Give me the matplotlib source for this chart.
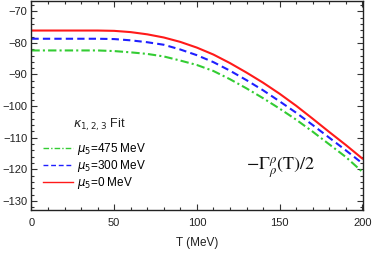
import matplotlib
matplotlib.use("Agg")
import matplotlib.pyplot as plt
from matplotlib.ticker import MultipleLocator
from matplotlib.lines import Line2D

plt.rcParams['font.family'] = ['Liberation Sans', 'DejaVu Sans']
plt.rcParams['mathtext.fontset'] = 'dejavusans'

T = [0, 10, 20, 30, 40, 50, 60, 70, 80, 90, 100, 110, 120, 130, 140, 150, 160, 170, 180, 190, 200]
mu0 = [-76.1, -76.1, -76.1, -76.1, -76.1, -76.2, -76.6, -77.3, -78.3, -79.7, -81.5, -83.7, -86.4,
       -89.4, -92.6, -96.1, -99.9, -104.0, -108.2, -112.3, -116.6]
mu300 = [-78.7, -78.7, -78.7, -78.7, -78.7, -78.8, -79.2, -79.8, -80.6, -82.1, -83.9, -86.1, -88.8,
         -91.8, -95.0, -98.5, -102.1, -106.0, -110.0, -114.0, -118.1]
mu475 = [-82.4, -82.4, -82.4, -82.4, -82.4, -82.6, -83.0, -83.5, -84.3, -85.6, -87.0, -88.9, -91.5,
         -94.4, -97.5, -100.8, -104.3, -108.1, -112.1, -116.1, -120.8]
labels = [r'$\mu_5$=475 MeV', r'$\mu_5$=300 MeV', r'$\mu_5$=0 MeV']

fig = plt.figure(figsize=(3.74, 2.54), dpi=100)
ax = fig.add_axes([0.084, 0.173, 0.887, 0.825])

green = '#33cc33'
l1, = ax.plot(T, mu475, color=green, lw=1.5, linestyle=(0, (4, 1.5, 1, 1.5)))
l2, = ax.plot(T, mu300, color='#1f1fff', lw=1.5, linestyle=(0, (3.5, 2)))
l3, = ax.plot(T, mu0, color='#ff1a1a', lw=1.5, linestyle='-')

ax.set_xlim(0, 200.5)
ax.set_ylim(-132.9, -66.6)
ax.xaxis.set_major_locator(MultipleLocator(50))
ax.xaxis.set_minor_locator(MultipleLocator(10))
ax.yaxis.set_major_locator(MultipleLocator(10))
ax.yaxis.set_minor_locator(MultipleLocator(2))
ax.tick_params(which='both', direction='in', top=True, right=True, labelsize=8, colors='#333333',
               labelcolor='#222222', width=0.8)
ax.tick_params(which='major', length=4, pad=6)
ax.tick_params(which='minor', length=2)
ax.tick_params(axis='y', which='major', pad=3)
for s in ax.spines.values():
    s.set_linewidth(1.0)
    s.set_color('#222222')

ax.set_xlabel('T (MeV)', fontsize=8.5, color='#222222', labelpad=6)

h1 = Line2D([], [], color=green, lw=1.0, linestyle=(0, (4, 1.5, 1, 1.5)))
h2 = Line2D([], [], color='#1f1fff', lw=1.0, linestyle=(0, (3.5, 2)))
h3 = Line2D([], [], color='#ff1a1a', lw=1.0)
leg = ax.legend([h1, h2, h3], labels, loc='center left', bbox_to_anchor=(0.035, 0.21),
                frameon=False, fontsize=8.5, handlelength=2.5, handletextpad=0.4,
                labelspacing=0.05, borderaxespad=0, borderpad=0)
ax.text(0.125, 0.405, r'$\kappa_{1,2,3}$ Fit', transform=ax.transAxes, fontsize=9,
        ha='left', va='center', color='#222222')

ax.text(0.75, 0.205, r'$-\Gamma_\rho^\rho\mathrm{(T)/2}$', transform=ax.transAxes,
        fontsize=13, ha='center', va='center', math_fontfamily='stix', color='#111111')

fig.savefig('out.png', dpi=100)
